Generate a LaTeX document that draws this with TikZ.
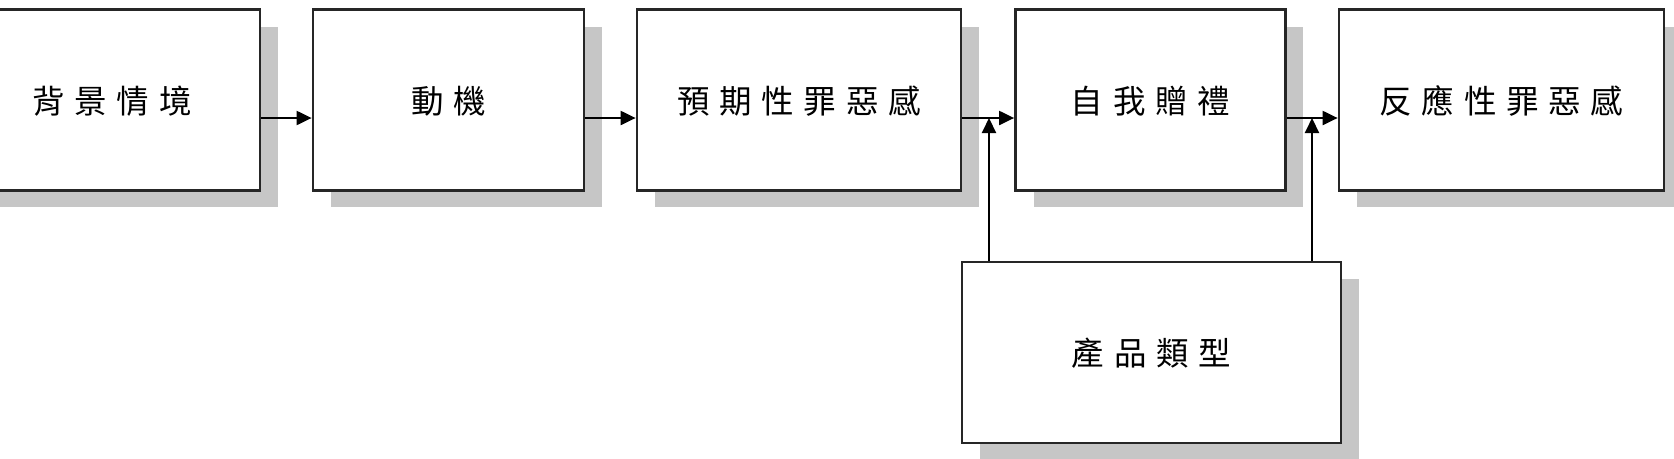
\documentclass[tikz,border=0pt]{standalone}
\usepackage{fontspec}
\newfontfamily\cjk[LetterSpace=30]{Noto Sans CJK TC}
\usetikzlibrary{arrows.meta,shadows}

\tikzset{
  box/.style={draw=black!85, line width=1.6pt, fill=white, minimum height=3.61cm,
    font=\cjk\fontsize{18.5}{22}\selectfont, text height=1.65em, text depth=0.12em,
    drop shadow={shadow xshift=0.36cm, shadow yshift=-0.34cm, fill=gray!45, opacity=1}},
  arr/.style={line width=1.2pt, -{Triangle[length=0.3cm,width=0.28cm]}}
}

\begin{document}
\begin{tikzpicture}[x=0.02cm,y=-0.02cm]
\useasboundingbox (0,0) rectangle (1674,458);
\clip (0,0) rectangle (1674,458);
\node[box, minimum width=5.92cm] (b1) at (112,100) {背景情境};
\node[box, minimum width=5.42cm] (b2) at (448.5,100) {動機};
\node[box, minimum width=6.48cm] (b3) at (799,100) {預期性罪惡感};
\node[box, minimum width=5.40cm] (b4) at (1150.5,100) {自我贈禮};
\node[box, minimum width=6.50cm] (b5) at (1501.5,100) {反應性罪惡感};
\node[box, minimum width=7.58cm, minimum height=3.62cm] (b6) at (1151.5,352.5) {產品類型};
\coordinate (j1) at (989,118);
\coordinate (j2) at (1312,118);
\draw[arr] ([yshift=-0.36cm]b1.east) -- ([yshift=-0.36cm]b2.west);
\draw[arr] ([yshift=-0.36cm]b2.east) -- ([yshift=-0.36cm]b3.west);
\draw[arr] ([yshift=-0.36cm]b3.east) -- ([yshift=-0.36cm]b4.west);
\draw[arr] ([yshift=-0.36cm]b4.east) -- ([yshift=-0.36cm]b5.west);
\draw[arr] (b6.north -| j1) -- (j1);
\draw[arr] (b6.north -| j2) -- (j2);
\end{tikzpicture}
\end{document}
